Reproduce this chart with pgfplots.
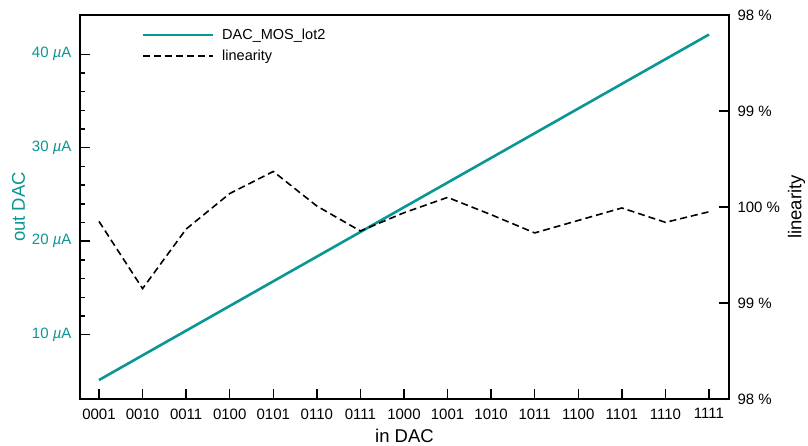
\documentclass[border=0pt]{standalone}
\usepackage{fontspec}
\setmainfont{Liberation Sans}
\usepackage{pgfplots}
\pgfplotsset{compat=1.18}
\definecolor{dacteal}{RGB}{10,150,148}

\begin{document}
\begin{tikzpicture}
\pgfplotsset{
  every axis/.append style={
    scale only axis, width=649pt, height=384pt,
    xmin=-0.436, xmax=14.46,
    axis line style={line width=1.6pt},
    tick style={line width=1.5pt, black},
    major tick length=10pt, minor tick length=5pt,
    tick align=inside,
    font=\fontsize{15}{17}\selectfont,
    /pgf/number format/assume math mode=true,
    label style={font=\fontsize{18.5}{20}\selectfont},
  },
}
% left axis: output current
\begin{axis}[
  ymin=3.12, ymax=44.2,
  xtick={0,...,14},
  xticklabels={0001,0010,0011,0100,0101,0110,0111,1000,1001,1010,1011,1100,1101,1110,1111},
  xtick pos=bottom,
  xticklabel style={yshift=-6pt},
  ytick={10,20,30,40},
  yticklabels={10 \textit{µ}A,20 \textit{µ}A,30 \textit{µ}A,40 \textit{µ}A},
  minor y tick num=4,
  ytick pos=left,
  yticklabel style={text=dacteal, xshift=-5pt},
  xlabel={in DAC},
  xlabel style={yshift=-3pt},
  ylabel={out DAC},
  ylabel style={text=dacteal},
  legend style={at={(0.090,0.974)}, anchor=north west, draw=none, fill=none,
    font=\fontsize{14.5}{16}\selectfont, row sep=5pt},
  legend cell align=left,
  legend image code/.code={\draw[#1] (0pt,0pt) -- (70pt,0pt); \path (76pt,0pt);},
]
\addplot[dacteal, line width=2.6pt] coordinates {
  (0,5.15)(1,7.79)(2,10.43)(3,13.07)(4,15.71)(5,18.35)(6,20.99)(7,23.63)
  (8,26.27)(9,28.91)(10,31.55)(11,34.19)(12,36.83)(13,39.47)(14,42.11)};
\addlegendentry{DAC\_MOS\_lot2}
\addlegendimage{black, dashed, line width=1.6pt, dash pattern=on 7pt off 4pt}
\addlegendentry{linearity}
\coordinate (bl) at (rel axis cs:0,0);
\coordinate (tr) at (rel axis cs:1,1);
\end{axis}
% right axis: linearity
\begin{axis}[
  axis y line*=right, axis x line=none,
  ymin=98, ymax=102,
  ytick={98,99,100,101,102},
  yticklabels={98 \%,99 \%,100 \%,99 \%,98 \%},
  yticklabel style={xshift=5pt},
  ylabel={linearity},
  ylabel style={yshift=-1pt},
]
\addplot[black, line width=1.6pt, dash pattern=on 7pt off 4pt] coordinates {
  (0,99.85)(1,99.15)(2,99.77)(3,100.14)(4,100.37)(5,100.01)(6,99.75)(7,99.94)
  (8,100.10)(9,99.92)(10,99.73)(11,99.86)(12,99.99)(13,99.84)(14,99.95)};
\end{axis}
\pgfresetboundingbox
\path ([shift={(-80pt,-47pt)}]bl) rectangle ([shift={(79pt,15pt)}]tr);
\end{tikzpicture}
\end{document}
